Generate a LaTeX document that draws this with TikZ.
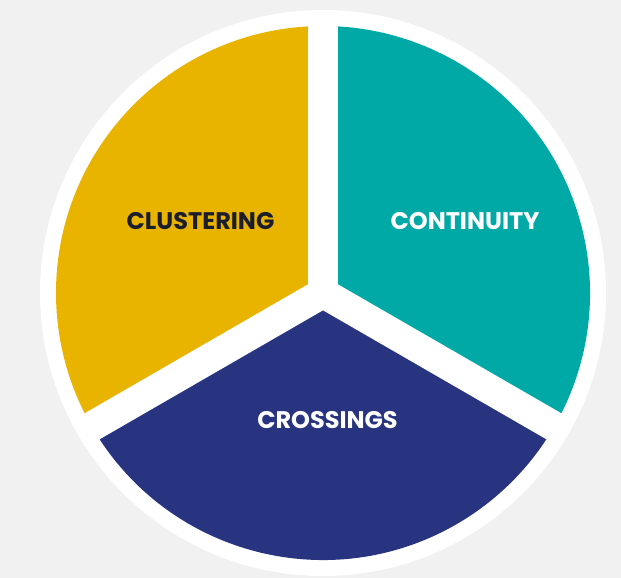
\documentclass[tikz,border=0pt]{standalone}
\usepackage{fontspec}
\setmainfont{Poppins}
\begin{document}
\begin{tikzpicture}[x=1pt,y=1pt,
  label/.style={font=\fontsize{24}{24}\selectfont\bfseries, inner sep=0pt, anchor=center},
  gap/.style={white, line width=30pt}]
\definecolor{bg}{HTML}{F1F1F1}
\definecolor{gold}{HTML}{E8B400}
\definecolor{teal}{HTML}{00A9A6}
\definecolor{navy}{HTML}{283480}
\definecolor{ink}{HTML}{1B1D2B}
% page
\fill[bg] (0,0) rectangle (621,578);
\useasboundingbox (0,0) rectangle (621,578);
\coordinate (c) at (323,285);
% white rim
\fill[white] (c) circle (283);
% three slices
\fill[gold] (c) -- ++(90:267) arc[start angle=90, end angle=210, radius=267] -- cycle;
\fill[teal] (c) -- ++(-30:267) arc[start angle=-30, end angle=90, radius=267] -- cycle;
\fill[navy] (c) -- ++(210:267) arc[start angle=210, end angle=330, radius=267] -- cycle;
% gaps between slices
\draw[gap] (c) -- ++(90:275);
\draw[gap] (c) -- ++(210:275);
\draw[gap] (c) -- ++(330:275);
% labels
\node[label, text=ink]   (clu) at (200.5,357) {CLUSTERING};
\node[label, text=white] (con) at (465,356.5) {CONTINUITY};
\node[label, text=white] (cro) at (327.5,158) {CROSSINGS};
\end{tikzpicture}
\end{document}
